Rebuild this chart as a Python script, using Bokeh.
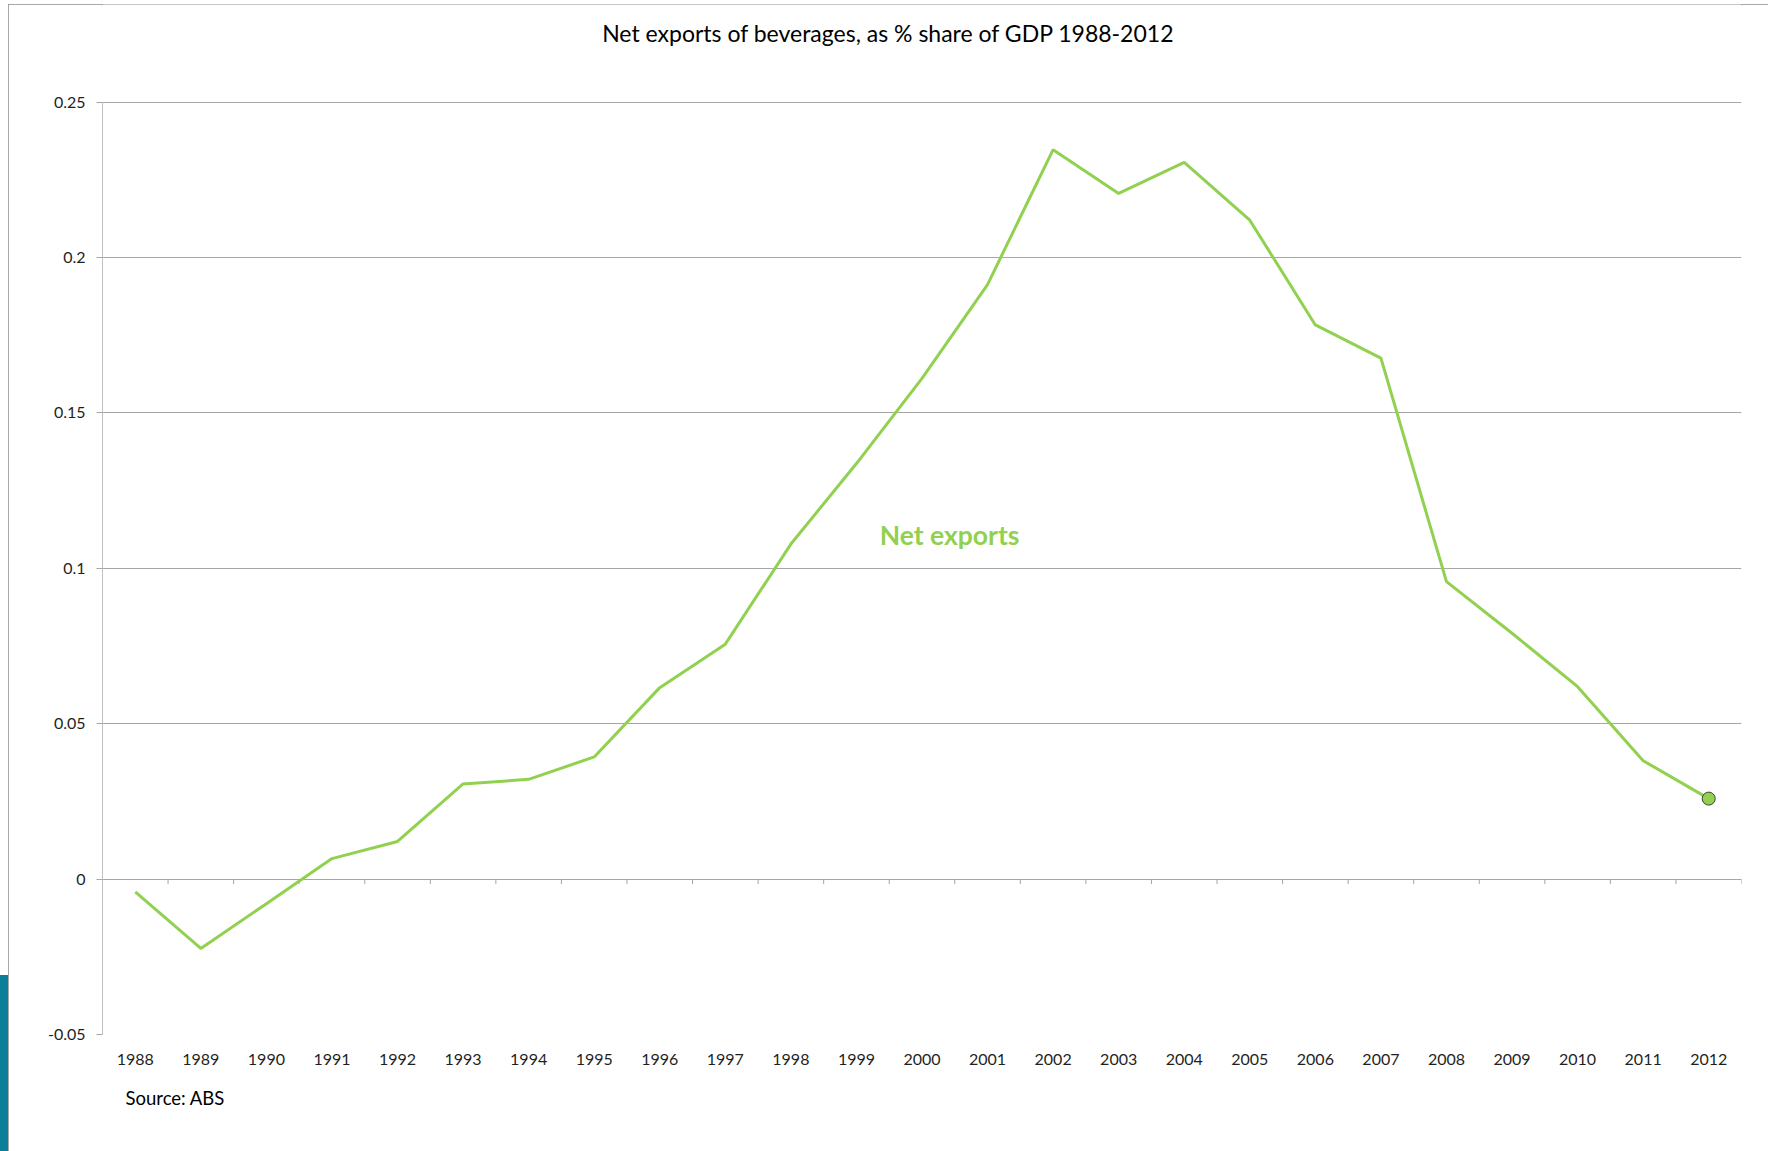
from bokeh.plotting import figure
from bokeh.models import FactorRange, Range1d, FixedTicker, Label, Title
from bokeh.embed import file_html
from bokeh.resources import INLINE

# ---- data ----
years = ["1988", "1989", "1990", "1991", "1992", "1993", "1994", "1995", "1996",
         "1997", "1998", "1999", "2000", "2001", "2002", "2003", "2004", "2005",
         "2006", "2007", "2008", "2009", "2010", "2011", "2012"]
net_exports = [-0.0041, -0.0223, -0.0079, 0.0066, 0.0121, 0.0306, 0.0321, 0.0393,
               0.0616, 0.0756, 0.1078, 0.1337, 0.1611, 0.1913, 0.2347, 0.2206,
               0.2306, 0.2120, 0.1783, 0.1676, 0.0957, 0.0791, 0.0619, 0.0381,
               0.0259]
y_ticks = [-0.05, 0, 0.05, 0.1, 0.15, 0.2, 0.25]
y_tick_labels = ["-0.05", "0", "0.05", "0.1", "0.15", "0.2", "0.25"]

title_text = "Net exports of beverages, as % share of GDP 1988-2012"
series_name = "Net exports"
source_text = "Source: ABS"

GREEN = "#92D050"
GRID = "#A6A6A6"
TEXT = "#1F1F1F"
FONT = "Lato"

# frame extends above the value axis so the chart title can sit inside it
Y_TOP = 0.2814

p = figure(
    x_range=FactorRange(*years, range_padding=0),
    y_range=Range1d(y_ticks[0], Y_TOP),
    width=1760, height=1147,
    output_backend="svg", toolbar_location=None,
    min_border_left=94, min_border_right=27,
    min_border_top=0, min_border_bottom=117,
)
p.styles = {"margin-left": "8px", "margin-top": "4px",
            "outline": "2px solid #8C8C8C", "outline-offset": "-2px",
            "box-shadow": "-8px 971px 0 0 #0B7F9A"}
p.outline_line_color = None
p.background_fill_color = "white"
p.border_fill_color = "white"

# x axis (labels only, at bottom)
xa = p.xaxis[0]
xa.axis_line_color = None
xa.major_tick_line_color = None
xa.minor_tick_line_color = None
xa.major_label_standoff = 13
xa.major_label_text_font = FONT
xa.major_label_text_font_size = "16px"
xa.major_label_text_color = TEXT

# y axis
ya = p.yaxis[0]
ya.ticker = FixedTicker(ticks=y_ticks)
ya.bounds = (y_ticks[0], y_ticks[-1])
ya.major_label_overrides = dict(zip(y_ticks, y_tick_labels))
ya.axis_line_color = "#BFBFBF"
ya.major_tick_line_color = GRID
ya.major_tick_in = 0
ya.major_tick_out = 6
ya.minor_tick_line_color = None
ya.major_label_standoff = 11
ya.major_label_text_font = FONT
ya.major_label_text_font_size = "16px"
ya.major_label_text_color = TEXT

# grid
p.xgrid.visible = False
p.ygrid.ticker = FixedTicker(ticks=y_ticks)
p.ygrid.grid_line_color = GRID
p.ygrid.grid_line_width = 1

# category-boundary tick marks on the zero line (synthetic category coords)
bounds = list(range(len(years) + 1))
tick_len = 0.0016
p.segment(x0=bounds, y0=[0] * len(bounds), x1=bounds, y1=[-tick_len] * len(bounds),
          line_color=GRID, line_width=1)

# series
p.line(years, net_exports, line_color=GREEN, line_width=3)
p.scatter([years[-1]], [net_exports[-1]], size=13, fill_color=GREEN,
          line_color="#404040", line_width=1)

# texts
p.add_layout(Label(x=11.99, y=0.2721, text=title_text, text_align="center",
                   text_baseline="middle", text_font=FONT, text_font_size="23px",
                   text_color="#000000"))
p.add_layout(Label(x=12.92, y=0.1108, text=series_name, text_align="center",
                   text_baseline="middle", text_font=FONT, text_font_size="26.5px",
                   text_font_style="bold", text_color=GREEN))
p.add_layout(Title(text=source_text, align="left", offset=23, vertical_align="top",
                   standoff=38, text_font=FONT, text_font_size="18.5px",
                   text_font_style="normal", text_color="#000000"), "below")

open("out.html", "w").write(file_html(p, INLINE))
